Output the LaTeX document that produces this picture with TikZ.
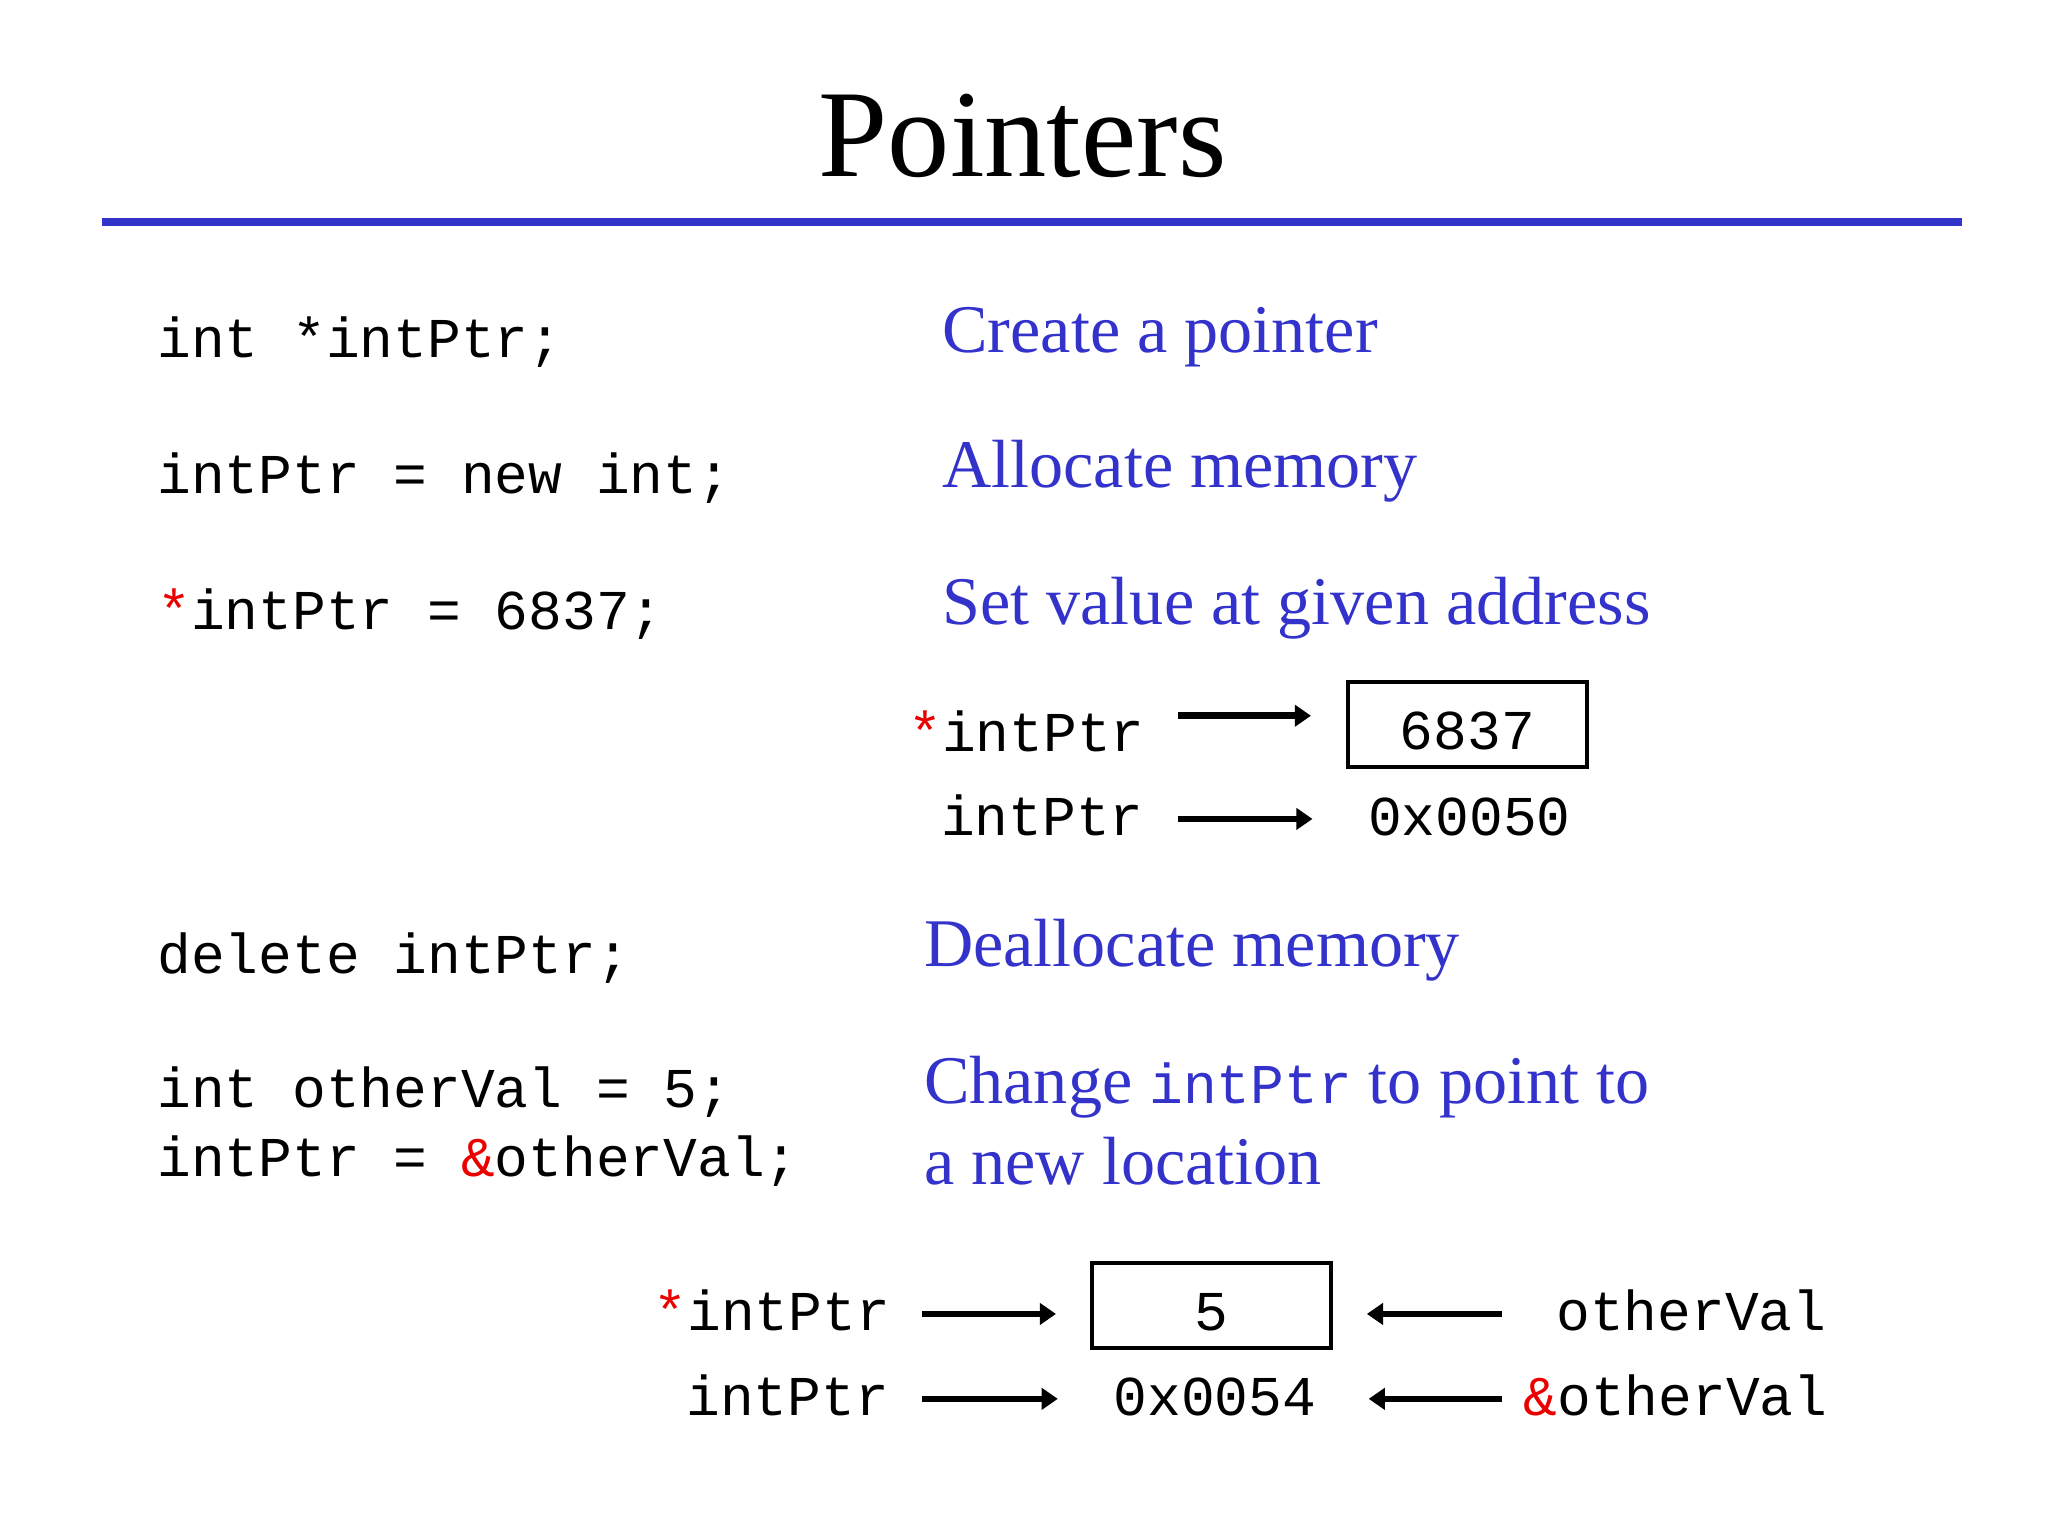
\documentclass[tikz,border=0pt]{standalone}
\usepackage{fontspec}
\setmainfont{Liberation Serif}
\setmonofont{Liberation Mono}
\usepackage{xcolor}
\usetikzlibrary{arrows.meta}
\usetikzlibrary{positioning}
\definecolor{slideblue}{RGB}{51,51,204}
\definecolor{ptrred}{RGB}{235,0,0}
\newcommand{\rd}[1]{{\color{ptrred}#1}}

\begin{document}
\begin{tikzpicture}[x=0.013061cm, y=-0.013061cm,
	code_text/.style={anchor=base west, inner sep=0pt, font=\ttfamily\fontsize{16}{18}\selectfont},
	note_text/.style={anchor=base west, inner sep=0pt, text=slideblue, font=\fontsize{19.4}{22}\selectfont},
	mem_box/.style={draw, line width=1.1pt, minimum width=2.39cm, minimum height=0.85cm, inner sep=0pt, text height=0.5cm, text depth=0pt, font=\ttfamily\fontsize{16}{18}\selectfont},
	ptr_arrow/.style={line width=1.9pt, -{Triangle[length=4.6pt,width=6pt]}}]
				
				\useasboundingbox (0,0) rectangle (1568,1176);
				
				% title
				\node[anchor=base, inner sep=0pt, font=\fontsize{35.4}{40}\selectfont] (title) at (783,135) {Pointers};
				\draw[slideblue, line width=2.3pt] (78,170) -- (1502,170);
				
				% code
				\node[code_text] (c1) at (120,274) {int *intPtr;};
				\node[code_text] (c2) at (120,378) {intPtr = new int;};
				\node[code_text] (c3) at (120,482) {\rd{*}intPtr = 6837;};
				\node[code_text] (c4) at (120,745) {delete intPtr;};
				\node[code_text] (c5) at (120,848) {int otherVal = 5;};
				\node[code_text] (c6) at (120,901) {intPtr = \rd{\&}otherVal;};
				
				% notes
				\node[note_text] (n1) at (721,270) {Create a pointer};
				\node[note_text] (n2) at (721,373) {Allocate memory};
				\node[note_text] (n3) at (721,478) {Set value at given address};
				\node[note_text] (n4) at (707,740) {Deallocate memory};
				\node[note_text] (n5) at (707,845) {Change {\ttfamily\fontsize{16}{18}\selectfont intPtr} to point to};
				\node[note_text] (n6) at (707,907) {a new location};
				
				% first memory picture
				\node[code_text] (deref1) at (695,575) {\rd{*}intPtr};
				\node[code_text] (ptr1) at (720,640) {intPtr};
				\node[mem_box] (box1) at (1123.5,554.5) {6837};
				\node[code_text] (addr1) at (1047,640) {0x0050};
				\coordinate (s1) at (902,548);
				\coordinate (s2) at (902,627);
				\draw[ptr_arrow, shorten >=0.35cm] (s1) -- (s1 -| box1.west);
				\draw[ptr_arrow, shorten >=0.55cm] (s2) -- (s2 -| addr1.west);
				
				% second memory picture
				\node[code_text] (deref2) at (500,1019) {\rd{*}intPtr};
				\node[code_text] (ptr2) at (525,1084) {intPtr};
				\node[mem_box] (box2) at (927.5,999.5) {5};
				\node[code_text] (addr2) at (852,1084) {0x0054};
				\node[code_text] (val) at (1191,1019) {otherVal};
				\node[code_text] (ref) at (1166,1084) {\rd{\&}otherVal};
				\coordinate (s3) at (706,1006);
				\coordinate (s4) at (706,1071);
				\coordinate (s5) at (1150,1006);
				\coordinate (s6) at (1150,1071);
				\draw[ptr_arrow, shorten >=0.34cm] (s3) -- (s3 -| box2.west);
				\draw[ptr_arrow, shorten >=0.55cm] (s4) -- (s4 -| addr2.west);
				\draw[ptr_arrow, shorten >=0.34cm] (s5) -- (s5 -| box2.east);
				\draw[ptr_arrow, shorten >=0.52cm] (s6) -- (s6 -| addr2.east);
			\end{tikzpicture}
\end{document}
